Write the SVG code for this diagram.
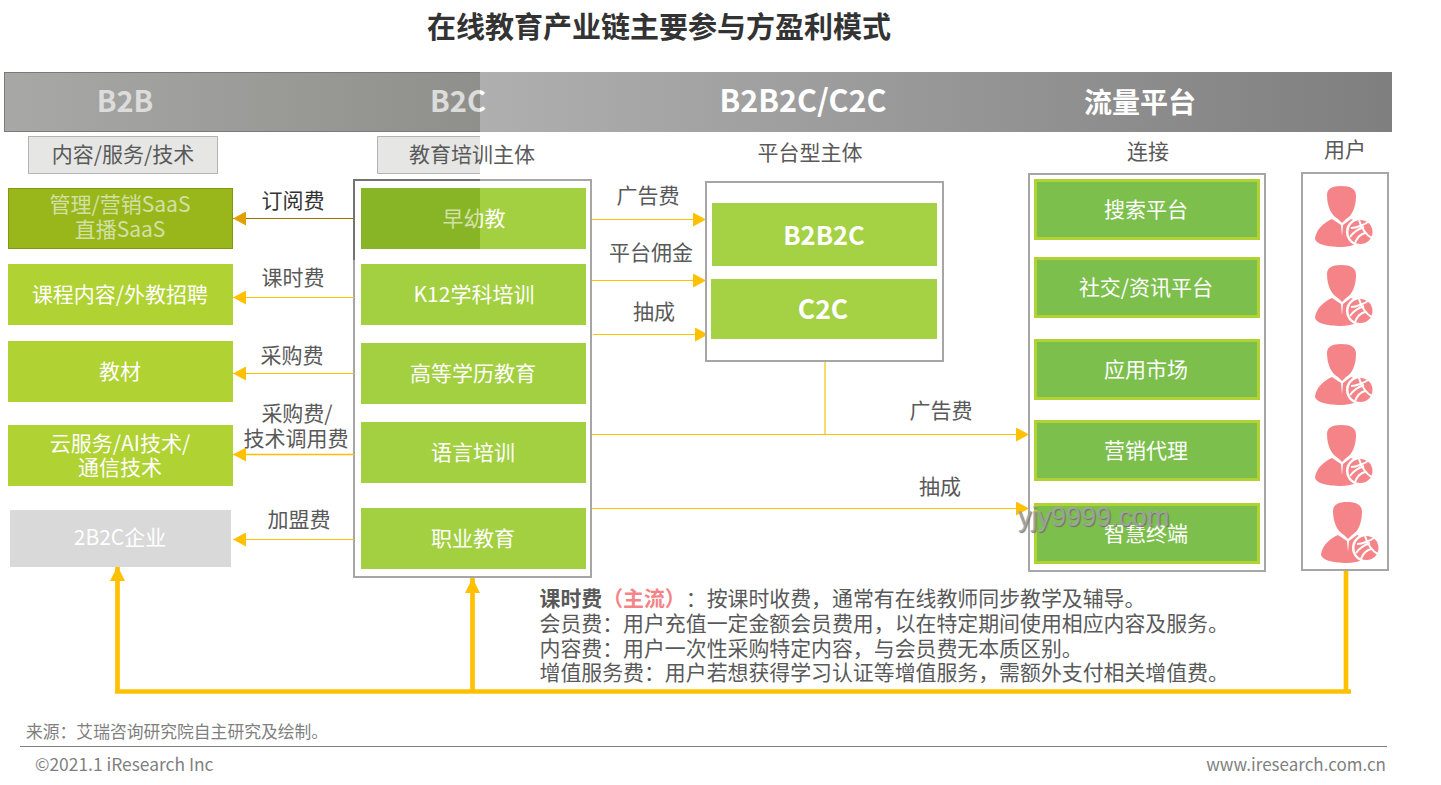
<svg xmlns="http://www.w3.org/2000/svg" width="1441" height="785" viewBox="0 0 1441 785">
<style>
text{font-family:"Noto Sans CJK SC","Microsoft YaHei","Liberation Sans",sans-serif;dominant-baseline:central;text-spacing-trim:space-all}
.c{text-anchor:middle}
.w{fill:#fff;font-size:21px}
.b{font-weight:700}
.g{fill:#595959;font-size:21px}
.box{fill:#fff;stroke:#a6a6a6;stroke-width:2}
.lv{fill:#b0d232}
.pt{fill:#a3d041}
.cn{fill:#7dbf4c;stroke:#b0d232;stroke-width:3}
.thin{fill:none;stroke:#ffc000;stroke-width:1.2}
.thick{fill:none;stroke:#ffc000;stroke-width:4.7}
.sub{fill:#e6e6e5;stroke:#b3b3b3;stroke-width:1}
.foot{fill:#7f7f7f;font-size:17px}
</style>
<defs>
<linearGradient id="bnL" gradientUnits="userSpaceOnUse" x1="4" y1="0" x2="480" y2="0"><stop offset="0" stop-color="#a8a8a7"/><stop offset="1" stop-color="#8f8f8b"/></linearGradient>
<linearGradient id="bnR" gradientUnits="userSpaceOnUse" x1="480" y1="0" x2="1392" y2="0"><stop offset="0" stop-color="#afafaf"/><stop offset="1" stop-color="#7f7f7f"/></linearGradient>
<linearGradient id="split" gradientUnits="userSpaceOnUse" x1="0" y1="0" x2="1441" y2="0"><stop offset="0.3331" stop-color="#dcdcdb"/><stop offset="0.3331" stop-color="#fff"/></linearGradient>
<linearGradient id="splitG" gradientUnits="userSpaceOnUse" x1="0" y1="0" x2="1441" y2="0"><stop offset="0.3331" stop-color="#d2e0a6"/><stop offset="0.3331" stop-color="#fff"/></linearGradient>
<marker id="ah" markerUnits="userSpaceOnUse" markerWidth="13" markerHeight="14" refX="13" refY="7" orient="auto"><path d="M0 0L13 7L0 14Z" fill="#ffc000"/></marker>
<marker id="ahD" markerUnits="userSpaceOnUse" markerWidth="13" markerHeight="14" refX="13" refY="7" orient="auto"><path d="M0 0L13 7L0 14Z" fill="#e0a000"/></marker>
<marker id="ahT" markerUnits="userSpaceOnUse" markerWidth="15" markerHeight="15" refX="15" refY="7.5" orient="auto"><path d="M0 0L15 7.5L0 15Z" fill="#ffc000"/></marker>
<symbol id="user" overflow="visible">
<path fill="#f48488" d="M12 9C12 3 17 0 26 0C36 0 41 3 41 10C41 21 37 30 31 33L27 37L23 33C17 30 12 21 12 9Z"/>
<path fill="#f48488" d="M17 33L26 39L27 50L28 39L36 33C44 36 50 40 52 47C50 56 38 61 26 61C12 61 0 58 0 52C2 43 8 37 17 33Z"/>
<circle cx="45" cy="46" r="14" fill="#fff"/>
<circle cx="45.500" cy="46" r="12" fill="#f48488"/>
<path fill="none" stroke="#fff" stroke-width="2" d="M36 42C42 42 50 38 53 36M44 34C46 42 52 50 57 52M35 51C40 44 46 42 49 41M40 57C42 52 46 48 50 47"/>
</symbol>
</defs>

<text class="c b" x="659" y="25" style="font-size:29px" fill="#333">在线教育产业链主要参与方盈利模式</text>

<g id="banner">
<rect x="4.500" y="72.500" width="476" height="59" fill="url(#bnL)" stroke="#7a7a78"/>
<rect x="480" y="72" width="912" height="60" fill="url(#bnR)"/>
<text class="c b" x="125" y="99" style="font-size:29px" fill="#dcdcdb">B2B</text>
<text class="c b" x="458" y="99" style="font-size:29px" fill="url(#split)">B2C</text>
<text class="c b" x="803" y="99" style="font-size:30.500px" fill="#fff">B2B2C/C2C</text>
<text class="c b" x="1140" y="101" style="font-size:28px" fill="#fff">流量平台</text>
</g>

<g id="head-content"><rect class="sub" x="28.500" y="136.500" width="189" height="37"/><text class="c g" x="123" y="153">内容/服务/技术</text></g>
<g id="head-training"><rect x="377.500" y="136.500" width="102.500" height="37" fill="#e6e6e5"/><path d="M480 136.500H377.500V173.500H480" fill="none" stroke="#b3b3b3"/><text class="c g" x="472" y="153">教育培训主体</text></g>
<g id="head-platform"><text class="c g" x="810" y="151">平台型主体</text></g>
<g id="head-connect"><text class="c g" x="1148" y="150">连接</text></g>
<g id="head-user"><text class="c g" x="1345" y="148">用户</text></g>

<g id="training-frame">
<rect class="box" x="354" y="180" width="237" height="397"/>
<path d="M354 260V180H480" fill="none" stroke="#737373" stroke-width="2"/>
</g>

<g id="connectors">
<path d="M354 218.500H233" fill="none" stroke="#9c6f00" stroke-width="1.200" marker-end="url(#ahD)"/>
<path class="thin" d="M354 297.500H233" marker-end="url(#ah)"/>
<path class="thin" d="M354 373.500H233" marker-end="url(#ah)"/>
<path class="thin" style="stroke-width:1.600" d="M354 454.500H233" marker-end="url(#ah)"/>
<path class="thin" d="M354 539.500H233" marker-end="url(#ah)"/>
<path class="thin" d="M592 219.500H706" marker-end="url(#ah)"/>
<path class="thin" d="M592 280.500H706" marker-end="url(#ah)"/>
<path class="thin" d="M593 334.500H708" marker-end="url(#ah)"/>
<path class="thin" d="M825 361V434"/>
<path class="thin" d="M592 434.500H1029" marker-end="url(#ah)"/>
<path class="thin" d="M592 508.500H1029" marker-end="url(#ah)"/>
<path class="thick" d="M117.500 691.500V566" marker-end="url(#ahT)"/>
<path class="thick" d="M472.500 691.500V578" marker-end="url(#ahT)"/>
<path class="thick" d="M1346 570V691.500"/>
<path class="thick" d="M115 691.500H1351"/>
</g>

<g id="connector-labels">
<text class="c" x="293" y="199" style="font-size:21px" fill="#333">订阅费</text>
<text class="c g" x="293" y="276">课时费</text>
<text class="c g" x="292" y="354">采购费</text>
<text class="c g" x="297" y="412">采购费/</text>
<text class="c g" x="296" y="437">技术调用费</text>
<text class="c g" x="299" y="518">加盟费</text>
<text class="c g" x="648" y="194">广告费</text>
<text class="c g" x="651" y="251">平台佣金</text>
<text class="c g" x="654" y="310">抽成</text>
<text class="c g" x="941" y="409">广告费</text>
<text class="c g" x="940" y="485">抽成</text>
</g>

<g id="saas"><rect x="8.500" y="188.500" width="224" height="60" fill="#99b71b" stroke="#7f9a0f"/>
<text class="c" x="120" y="203" style="font-size:21px" fill="#d2e0a6">管理/营销SaaS</text>
<text class="c" x="120" y="228" style="font-size:21px" fill="#d2e0a6">直播SaaS</text></g>
<g id="course"><rect class="lv" x="8" y="264" width="225" height="61"/><text class="c w" x="120" y="293">课程内容/外教招聘</text></g>
<g id="books"><rect class="lv" x="8" y="341" width="225" height="61"/><text class="c w" x="120" y="370">教材</text></g>
<g id="cloud"><rect class="lv" x="8" y="425" width="225" height="61"/>
<text class="c w" x="120" y="442">云服务/AI技术/</text><text class="c w" x="120" y="466">通信技术</text></g>
<g id="franchise"><rect x="10" y="510" width="221" height="57" fill="#d9d9d9"/><text class="c w" x="120" y="536">2B2C企业</text></g>

<g id="early"><rect class="pt" x="361" y="188" width="225" height="61"/><rect x="361" y="188" width="119" height="61" fill="#87b525"/>
<text class="c" x="474" y="217" style="font-size:21px" fill="url(#splitG)">早幼教</text></g>
<g id="k12"><rect class="pt" x="361" y="264" width="225" height="61"/><text class="c w" x="474" y="293">K12学科培训</text></g>
<g id="higher"><rect class="pt" x="361" y="343" width="225" height="61"/><text class="c w" x="473" y="372">高等学历教育</text></g>
<g id="language"><rect class="pt" x="361" y="422" width="225" height="61"/><text class="c w" x="473" y="451">语言培训</text></g>
<g id="vocational"><rect class="pt" x="361" y="508" width="225" height="61"/><text class="c w" x="473" y="537">职业教育</text></g>

<g id="platform">
<rect class="box" x="706" y="182" width="237" height="179"/>
<rect x="712" y="203" width="225" height="63" fill="#a5d144"/>
<text class="c b" x="824" y="233" style="font-size:25.500px" fill="#fff">B2B2C</text>
<rect x="711" y="279" width="226" height="60" fill="#a5d144"/>
<text class="c b" x="823" y="307" style="font-size:26.500px" fill="#fff">C2C</text>
</g>

<g id="connect-frame"><rect class="box" x="1029" y="174" width="236" height="397"/></g>
<g id="search"><rect class="cn" x="1035.500" y="180.500" width="223" height="58"/><text class="c w" x="1146" y="208">搜索平台</text></g>
<g id="social"><rect class="cn" x="1035.500" y="258.500" width="223" height="58"/><text class="c w" x="1146" y="286">社交/资讯平台</text></g>
<g id="appstore"><rect class="cn" x="1035.500" y="340.500" width="223" height="58"/><text class="c w" x="1146" y="368">应用市场</text></g>
<g id="agency"><rect class="cn" x="1035.500" y="421.500" width="223" height="58"/><text class="c w" x="1146" y="449">营销代理</text></g>
<g id="terminal"><rect class="cn" x="1035.500" y="504.500" width="223" height="58"/><text class="c w" x="1146" y="532">智慧终端</text></g>

<g id="users">
<rect class="box" x="1302" y="173" width="86" height="397"/>
<use href="#user" x="1315" y="186"/>
<use href="#user" x="1315" y="265"/>
<use href="#user" x="1315" y="344"/>
<use href="#user" x="1315" y="425"/>
<use href="#user" x="1321" y="502"/>
</g>

<text x="1018" y="517" style="font-family:'Liberation Sans',sans-serif;font-size:27px;text-shadow:1px 1px 1px #666" fill="#a6a6a6" fill-opacity="0.85">yjy9999.com</text>

<g id="notes" style="font-size:20.900px" fill="#595959">
<text x="539.500" y="597"><tspan class="b">课时费</tspan><tspan class="b" fill="#f48488">（主流）</tspan>：按课时收费，通常有在线教师同步教学及辅导。</text>
<text x="539.500" y="621.500">会员费：用户充值一定金额会员费用，以在特定期间使用相应内容及服务。</text>
<text x="539.500" y="646.500">内容费：用户一次性采购特定内容，与会员费无本质区别。</text>
<text x="539.500" y="671">增值服务费：用户若想获得学习认证等增值服务，需额外支付相关增值费。</text>
</g>

<g id="footer">
<text x="26" y="731" style="font-size:16.800px" fill="#7f7f7f">来源：艾瑞咨询研究院自主研究及绘制。</text>
<path d="M20 746.500H1387" stroke="#7f7f7f" stroke-width="1"/>
<text class="foot" x="35" y="763" style="font-size:17.400px">©2021.1 iResearch Inc</text>
<text class="foot" x="1386" y="763" text-anchor="end">www.iresearch.com.cn</text>
</g>
</svg>
